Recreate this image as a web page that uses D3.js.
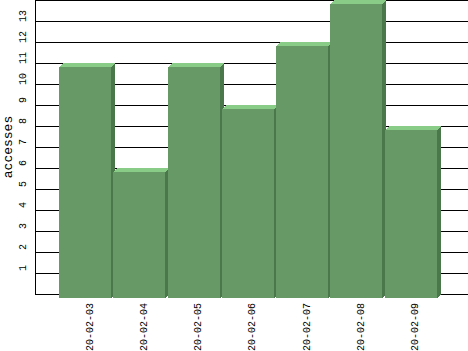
<!DOCTYPE html>
<html>
<head>
<meta charset="utf-8">
<script src="https://cdn.jsdelivr.net/npm/d3@7"></script>
<style>
  body { margin: 0; background: #fff; }
  svg { display: block; }
  text { font-family: "Liberation Mono", monospace; fill: #000; }
</style>
</head>
<body>
<svg id="svg" width="468" height="351"></svg>
<script>
var days = ["20-02-03", "20-02-04", "20-02-05", "20-02-06", "20-02-07", "20-02-08", "20-02-09"];
var accesses = [11, 6, 11, 9, 12, 14, 8];
var yTicks = [1, 2, 3, 4, 5, 6, 7, 8, 9, 10, 11, 12, 13];

var svg = d3.select("#svg");
var W = 468, left = 35, base = 294, depth = 4;

var x = d3.scaleBand().domain(days).range([59, 439]).padding(0);
var y = d3.scaleLinear().domain([0, 14]).range([base, 0]);

// grid lines
svg.append("g").selectAll("line")
  .data(d3.range(0, 15))
  .enter().append("line")
  .attr("x1", left).attr("x2", W)
  .attr("y1", d => Math.round(y(d)) + 0.5)
  .attr("y2", d => Math.round(y(d)) + 0.5)
  .attr("stroke", "#000");

svg.append("line")
  .attr("x1", left + 0.5).attr("x2", left + 0.5)
  .attr("y1", 0).attr("y2", base + 1)
  .attr("stroke", "#000");

// y tick labels
svg.append("g").selectAll("text")
  .data(yTicks)
  .enter().append("text")
  .attr("transform", d => "translate(26," + (y(d) - 5) + ") rotate(-90)")
  .attr("text-anchor", "middle")
  .style("font-size", "10px")
  .text(d => d);

svg.append("text")
  .attr("transform", "translate(12,147) rotate(-90)")
  .attr("text-anchor", "middle")
  .style("font-size", "13px")
  .text("accesses");

// bars
var fw = Math.round(x.bandwidth() - 2);
var bars = svg.append("g").attr("shape-rendering", "crispEdges")
  .selectAll("g")
  .data(days)
  .enter().append("g");

bars.append("polygon")
  .attr("fill", "#4a784a")
  .attr("points", function (d, i) {
    var x0 = Math.round(x(d)), yt = Math.round(y(accesses[i]));
    return [[x0 + fw, yt + depth], [x0 + fw + depth, yt], [x0 + fw + depth, base], [x0 + fw, base + depth]].join(" ");
  });

bars.append("polygon")
  .attr("fill", "#88cc88")
  .attr("points", function (d, i) {
    var x0 = Math.round(x(d)), yt = Math.round(y(accesses[i]));
    return [[x0, yt + depth], [x0 + depth, yt], [x0 + fw + depth, yt], [x0 + fw, yt + depth]].join(" ");
  });

bars.append("rect")
  .attr("fill", "#669966")
  .attr("x", d => Math.round(x(d)))
  .attr("y", (d, i) => Math.round(y(accesses[i])) + depth)
  .attr("width", fw)
  .attr("height", (d, i) => base - Math.round(y(accesses[i])));

// x labels
svg.append("g").selectAll("text")
  .data(days)
  .enter().append("text")
  .attr("transform", d => "translate(" + (x(d) + 30) + ",303) rotate(-90)")
  .attr("text-anchor", "end")
  .attr("dy", "0.35em")
  .style("font-size", "10px")
  .text(d => d);
</script>
</body>
</html>
